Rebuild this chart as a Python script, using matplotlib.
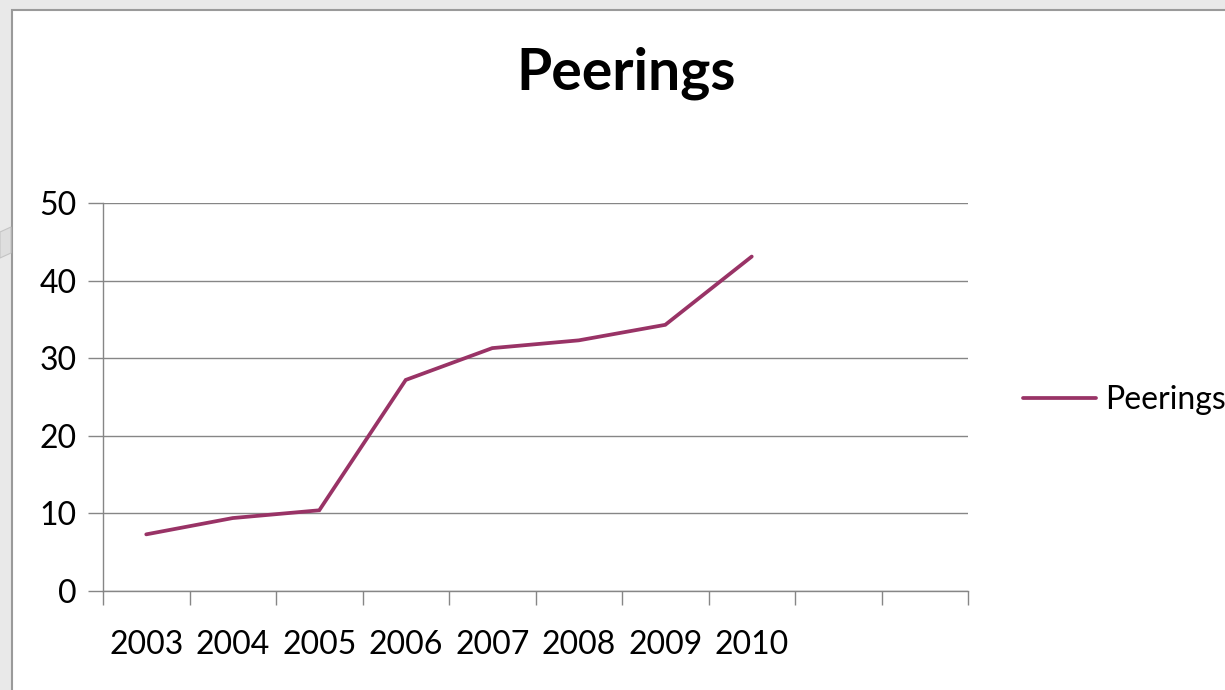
import matplotlib
matplotlib.use("Agg")
import matplotlib.pyplot as plt
from matplotlib.patches import Rectangle, Polygon
from matplotlib.ticker import FixedLocator, NullFormatter

# ---- data ----
years = ["2003", "2004", "2005", "2006", "2007", "2008", "2009", "2010"]
peerings = [7.3, 9.4, 10.4, 27.2, 31.3, 32.3, 34.3, 43.1]
n_slots = 10
y_ticks = [0, 10, 20, 30, 40, 50]
title = "Peerings"
series_name = "Peerings"

W, H = 1225, 690
fig = plt.figure(figsize=(W / 100, H / 100), dpi=100)
fig.patch.set_facecolor("#e9e9e9")

# white chart area with border
fig.patches.append(Rectangle((12 / W, -0.05), 1.1, (H - 10) / H + 0.05,
                             transform=fig.transFigure, facecolor="white",
                             edgecolor="#9a9a9a", linewidth=1.5, zorder=-2))
# small background artifact at left edge
fig.patches.append(Polygon([(0, 1 - 232 / H), (11 / W, 1 - 227 / H),
                            (11 / W, 1 - 253 / H), (0, 1 - 258 / H)],
                           closed=True, transform=fig.transFigure,
                           facecolor="#dedede", edgecolor="#c4c4c4",
                           linewidth=0.8, zorder=-2))

font = "Lato"
fs = 23
ax = fig.add_axes([103 / W, (H - 591) / H, 865 / W, 388 / H])
ax.set_facecolor("none")

x = [i + 0.5 for i in range(len(years))]
ax.plot(x, peerings, color="#993366", linewidth=2.7, solid_capstyle="round",
        solid_joinstyle="miter", label=series_name, zorder=3)

ax.set_xlim(0, n_slots)
ax.set_ylim(0, 50)

# y axis
ax.set_yticks(y_ticks)
ax.set_yticklabels([str(v) for v in y_ticks], fontfamily=font, fontsize=fs)
ax.yaxis.grid(True, color="#868686", linewidth=1.0)
ax.tick_params(axis="y", direction="out", length=11, width=1.0,
               color="#868686", pad=8)

# x axis: major ticks at boundaries, labels at centers
ax.xaxis.set_major_locator(FixedLocator(list(range(n_slots + 1))))
ax.xaxis.set_major_formatter(NullFormatter())
ax.xaxis.set_minor_locator(FixedLocator(x))
ax.set_xticklabels(years, minor=True, fontfamily=font, fontsize=fs)
ax.tick_params(axis="x", which="major", direction="out", length=10,
               width=1.0, color="#868686")
ax.tick_params(axis="x", which="minor", length=0, pad=28)

for s in ["top", "right"]:
    ax.spines[s].set_visible(False)
for s in ["left", "bottom"]:
    ax.spines[s].set_color("#868686")
    ax.spines[s].set_linewidth(1.0)
ax.set_axisbelow(True)

fig.text(626 / W, 1 - 73 / H, title, ha="center", va="center",
         fontfamily=font, fontweight="bold", fontsize=41)

leg = ax.legend(loc="center left", bbox_to_anchor=(1023 / W, 1 - 400 / H),
                bbox_transform=fig.transFigure, frameon=False,
                prop={"family": font, "size": fs}, handlelength=2.3,
                handletextpad=0.28, borderaxespad=0, borderpad=0)

fig.savefig("out.png", dpi=100, facecolor=fig.get_facecolor())
